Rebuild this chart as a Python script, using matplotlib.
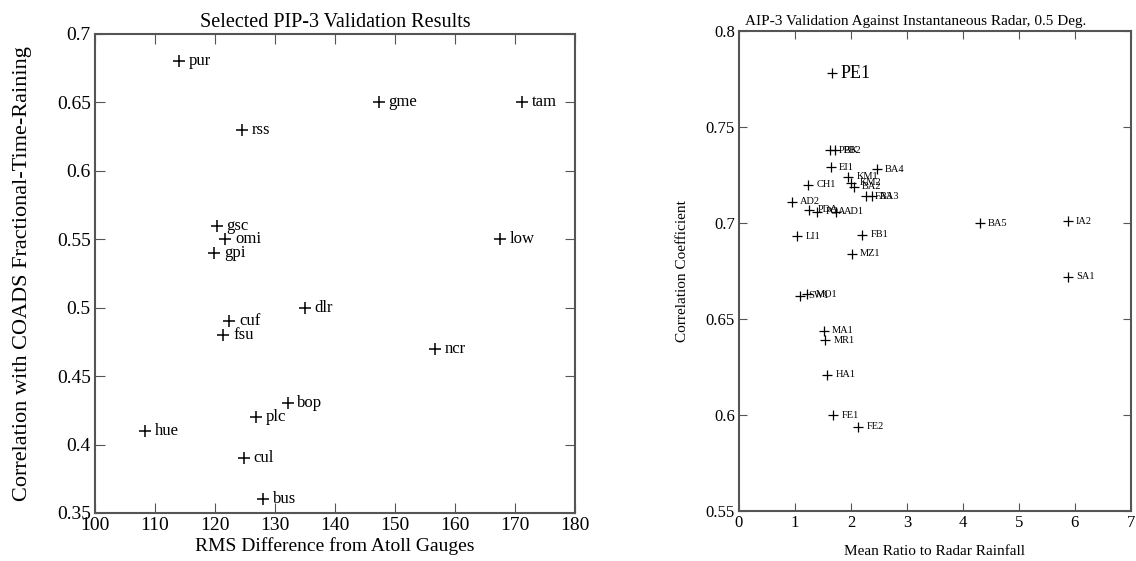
import matplotlib.pyplot as plt
from matplotlib.ticker import FuncFormatter

plt.rcParams['font.family'] = ['Liberation Serif', 'DejaVu Serif']

# left panel: PIP-3
pip_names = ["pur", "rss", "gme", "tam", "low", "dlr", "ncr", "gsc", "omi", "gpi",
             "cuf", "fsu", "bop", "plc", "hue", "cul", "bus"]
pip_rms = [114, 124.5, 147.3, 171.2, 167.5, 135, 156.7, 120.3, 121.7, 119.9,
           122.4, 121.4, 132.1, 126.8, 108.4, 124.8, 128]
pip_corr = [0.68, 0.63, 0.65, 0.65, 0.55, 0.50, 0.47, 0.56, 0.55, 0.54,
            0.49, 0.48, 0.43, 0.42, 0.41, 0.39, 0.36]

# right panel: AIP-3
aip_names = ["PE1", "PBK", "PB2", "EI1", "BA4", "CH1", "KM1", "KM2", "BA2", "FA3", "BA3",
             "AD2", "PDA", "POA", "AD1", "LI1", "FB1", "MZ1", "SW1", "MO1", "MA1", "MR1",
             "HA1", "FE1", "FE2", "BA5", "IA2", "SA1"]
aip_ratio = [1.66, 1.63, 1.72, 1.64, 2.46, 1.23, 1.95, 2.0, 2.05, 2.27, 2.37,
             0.94, 1.25, 1.40, 1.73, 1.04, 2.20, 2.01, 1.09, 1.22, 1.51, 1.54,
             1.58, 1.68, 2.13, 4.30, 5.87, 5.87]
aip_corr = [0.778, 0.738, 0.738, 0.729, 0.728, 0.720, 0.724, 0.721, 0.719, 0.714, 0.714,
            0.711, 0.707, 0.706, 0.706, 0.693, 0.694, 0.684, 0.662, 0.663, 0.644, 0.639,
            0.621, 0.600, 0.594, 0.700, 0.701, 0.672]

fig = plt.figure(figsize=(11.36, 5.61), dpi=100)
ax1 = fig.add_axes([0.0836, 0.0856, 0.4225, 0.854])
ax2 = fig.add_axes([0.6505, 0.0891, 0.345, 0.8556])

spine_col = "#555555"

ax1.plot(pip_rms, pip_corr, '+', color='k', ms=9, mew=1.1)
for n, x, y in zip(pip_names, pip_rms, pip_corr):
    ax1.annotate(n, (x, y), xytext=(7, 0), textcoords='offset points',
                 va='center', ha='left', fontsize=12)
ax1.set_xlim(100, 180)
ax1.set_ylim(0.35, 0.7)
ax1.set_xticks(range(100, 181, 10))
ax1.set_yticks([0.35, 0.4, 0.45, 0.5, 0.55, 0.6, 0.65, 0.7])
ax1.yaxis.set_major_formatter(FuncFormatter(lambda v, p: "%g" % round(v, 2)))
ax1.set_title("Selected PIP-3 Validation Results", fontsize=14.5, pad=5)
ax1.set_xlabel("RMS Difference from Atoll Gauges", fontsize=14, labelpad=2)
ax1.set_ylabel("Correlation with COADS Fractional-Time-Raining", fontsize=16, labelpad=18)
ax1.tick_params(direction='in', top=True, right=True, length=7, labelsize=14,
                color=spine_col, pad=3)

ax2.plot(aip_ratio, aip_corr, '+', color='k', ms=7, mew=0.9)
for n, x, y in zip(aip_names, aip_ratio, aip_corr):
    fs = 13 if n == "PE1" else 7.5
    ax2.annotate(n, (x, y), xytext=(6, 0), textcoords='offset points',
                 va='center', ha='left', fontsize=fs)
ax2.set_xlim(0, 7)
ax2.set_ylim(0.55, 0.8)
ax2.set_xticks(range(0, 8))
ax2.set_yticks([0.55, 0.6, 0.65, 0.7, 0.75, 0.8])
ax2.yaxis.set_major_formatter(FuncFormatter(lambda v, p: "%g" % round(v, 2)))
ax2.set_title("AIP-3 Validation Against Instantaneous Radar, 0.5 Deg.", fontsize=11,
              pad=4, x=0.45)
ax2.set_xlabel("Mean Ratio to Radar Rainfall", fontsize=11, labelpad=10)
ax2.set_ylabel("Correlation Coefficient", fontsize=11, labelpad=12)
ax2.tick_params(direction='in', top=True, right=True, length=6, labelsize=12,
                color=spine_col, pad=3)

for ax in (ax1, ax2):
    for s in ax.spines.values():
        s.set_color(spine_col)
        s.set_linewidth(1.5)

fig.savefig("out.png", dpi=100)
